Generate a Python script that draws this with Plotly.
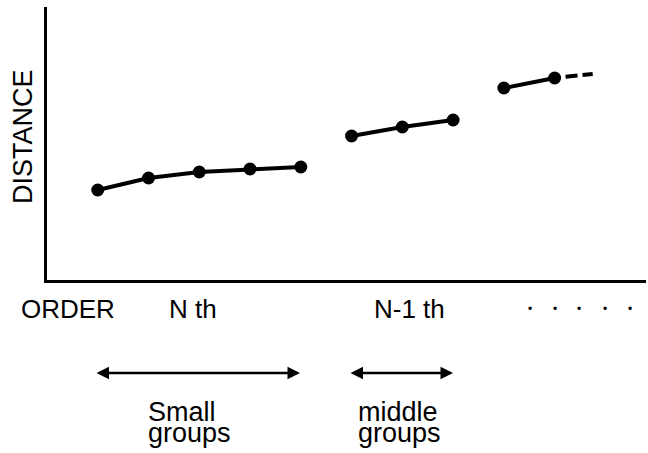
import plotly.graph_objects as go

# ---- data ----
order_nth = [1, 2, 3, 4, 5]
distance_nth = [9.0, 10.2, 10.8, 11.1, 11.3]

order_n1th = [6, 7, 8]
distance_n1th = [14.4, 15.3, 16.0]

order_n2th = [9, 10]
distance_n2th = [19.2, 20.2]

order_ext = [10, 10.75]
distance_ext = [20.2, 20.6]

axis_titles = ["DISTANCE", "ORDER"]
order_labels = ["N th", "N-1 th"]
group_labels = [["Small", "groups"], ["middle", "groups"]]

FONT = "Liberation Sans"
W_PX, H_PX = 648, 453
L, T, PW, PH = 47, 7, 599, 273


def px(x):
    return (x - L) / PW


def py(y):
    return (T + PH - y) / PH


fig = go.Figure()
for xs, ys in [(order_nth, distance_nth), (order_n1th, distance_n1th), (order_n2th, distance_n2th)]:
    fig.add_trace(go.Scatter(
        x=xs, y=ys, mode="lines+markers",
        line=dict(color="black", width=4),
        marker=dict(color="black", size=13),
        showlegend=False, hoverinfo="skip"))
fig.add_trace(go.Scatter(
    x=order_ext, y=distance_ext, mode="lines",
    line=dict(color="black", width=4, dash="0px,11px,12px,5px,12px,200px"),
    showlegend=False, hoverinfo="skip"))

ann = []
# y-axis title
ann.append(dict(text=axis_titles[0], x=px(23), y=py(137), xref="paper", yref="paper",
                textangle=-90, showarrow=False, xanchor="center", yanchor="middle",
                font=dict(size=27, color="black", family=FONT)))
# ORDER
ann.append(dict(text=axis_titles[1], x=px(19), y=py(309), xref="paper", yref="paper",
                showarrow=False, xanchor="left", yanchor="middle",
                font=dict(size=26, color="black", family=FONT)))
# order labels
for lab, xc in zip(order_labels, [192.5, 409]):
    ann.append(dict(text=lab, x=px(xc), y=py(309), xref="paper", yref="paper",
                    showarrow=False, xanchor="center", yanchor="middle",
                    font=dict(size=26, color="black", family=FONT)))
# ellipsis dots
for xd in [530, 555, 579, 605, 630]:
    ann.append(dict(text="•", x=px(xd), y=py(309), xref="paper", yref="paper",
                    showarrow=False, xanchor="center", yanchor="middle",
                    font=dict(size=12, color="black", family=FONT)))
# double arrows
for x0, x1 in [(95, 300), (349, 453)]:
    ann.append(dict(text="", x=px(x1), y=py(373), xref="paper", yref="paper",
                    ax=-(x1 - x0), ay=0, axref="pixel", ayref="pixel",
                    showarrow=True, arrowhead=2, arrowside="end+start",
                    arrowwidth=2.5, arrowsize=1, arrowcolor="black",
                    standoff=0, startstandoff=0))
# group labels (two tight lines in one text block)
for (l1, l2), xl in zip(group_labels, [146, 356]):
    txt = ("<span style='font-size:27px'>%s</span><br>"
           "<span style='font-size:27px'>%s</span>") % (l1, l2)
    ann.append(dict(text=txt, x=px(xl), y=py(422), xref="paper", yref="paper",
                    showarrow=False, xanchor="left", yanchor="middle", align="left",
                    font=dict(size=16.5, color="black", family=FONT)))

fig.update_layout(
    width=W_PX, height=H_PX,
    margin=dict(l=L, r=W_PX - L - PW, t=T, b=H_PX - T - PH, pad=0),
    paper_bgcolor="white", plot_bgcolor="white",
    xaxis=dict(range=[0, 11.8], showgrid=False, zeroline=False, showticklabels=False,
               ticks="", showline=True, linecolor="black", linewidth=2.5, fixedrange=True),
    yaxis=dict(range=[0, 27.3], showgrid=False, zeroline=False, showticklabels=False,
               ticks="", showline=True, linecolor="black", linewidth=2.5, fixedrange=True),
    annotations=ann,
    showlegend=False,
)

fig.write_html("out.html", config={"displayModeBar": False},
               post_script="document.body.style.margin='0';document.body.style.overflow='hidden';")
